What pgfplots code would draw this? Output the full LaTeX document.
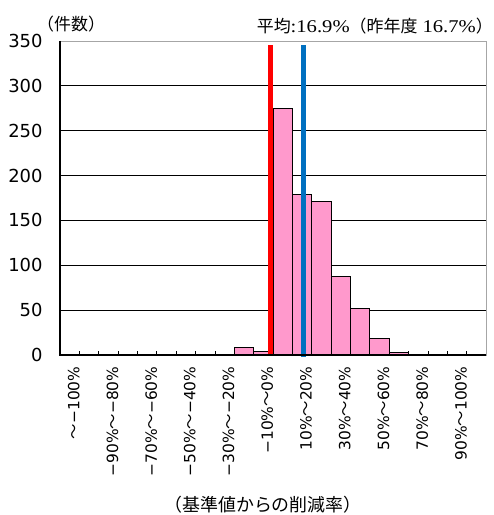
\documentclass[border=0pt]{standalone}
\usepackage{fontspec}
\setmainfont{DejaVu Sans}
\newfontfamily\cjk{Noto Sans CJK JP}
\newfontfamily\ser{Liberation Serif}
\usepackage{graphicx}
\usepackage{pgfplots}
\pgfplotsset{compat=1.18}
\definecolor{barpink}{RGB}{255,153,204}
\definecolor{mred}{RGB}{255,0,0}
\definecolor{mblue}{RGB}{0,112,192}
\newcommand\tl{{\cjk ～}}
\newcommand\sn[1]{\scalebox{1.15}[1]{\ser\fontsize{18}{18}\selectfont #1}}
\begin{document}
\begin{tikzpicture}[x=1bp,y=1bp]
\useasboundingbox (0,0) rectangle (494,515);
\begin{axis}[at={(60bp,160bp)}, anchor=south west, scale only axis,
  width=426bp, height=314bp,
  xmin=-0.5, xmax=21.5, ymin=0, ymax=350,
  ytick={0,50,...,350},
  ymajorgrids, major grid style={black, line width=0.8pt},
  /pgf/number format/assume math mode=true,
  yticklabel style={font=\fontsize{18}{18}\selectfont, xshift=-14bp},
  xtick={0,2,...,20},
  xticklabels={{\tl−100\%},{−90\%\tl−80\%},{−70\%\tl−60\%},{−50\%\tl−40\%},{−30\%\tl−20\%},{−10\%\tl0\%},{10\%\tl20\%},{30\%\tl40\%},{50\%\tl60\%},{70\%\tl80\%},{90\%\tl100\%}},
  xticklabel style={rotate=90, anchor=east, font=\fontsize{15.5}{15.5}\selectfont, xshift=-8bp, yshift=-4bp},
  minor xtick={-0.5,0.5,...,21.5},
  major tick length=0pt, minor tick length=4bp,
  tick align=inside, xtick pos=bottom, ytick pos=left,
  minor x tick style={black, line width=0.8pt},
  axis line style={draw=gray!70, line width=0.8pt},
  clip=false,
]
\addplot[ybar, bar width=1, bar shift=0pt, fill=barpink, draw=black, line width=0.8pt]
  coordinates {(0,1) (1,1) (7,1) (8,1) (9,8) (10,4) (11,275) (12,179) (13,171) (14,88) (15,52) (16,18) (17,3) (18,1)};
\addplot[mred, line width=4.5bp] coordinates {(10.38,0) (10.38,346)};
\addplot[mblue, line width=4.5bp] coordinates {(12.07,-2) (12.07,345)};
\draw[black, line width=1.8bp] (rel axis cs:0,1) -- (rel axis cs:0,0) -- (rel axis cs:1,0);
\end{axis}
\node[anchor=west, font=\cjk\fontsize{17}{17}\selectfont, inner sep=0] at (37,491) {（件数）};
\node[anchor=east, font=\fontsize{17}{17}\selectfont, inner sep=0] at (493,489) {{\cjk 平均}\sn{:16.9\%}{\cjk （昨年度}\sn{\ 16.7\%}{\cjk ）}};
\node[font=\cjk\fontsize{18}{18}\selectfont, inner sep=0] at (263,10) {（基準値からの削減率）};
\end{tikzpicture}
\end{document}
